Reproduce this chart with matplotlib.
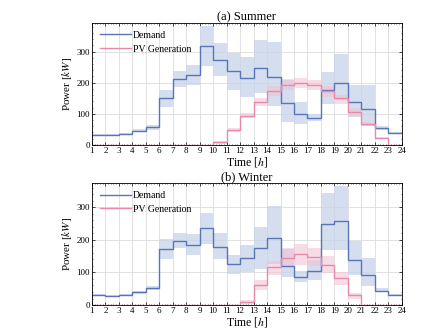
import numpy as np
import matplotlib
matplotlib.use("Agg")
import matplotlib.pyplot as plt

plt.rcParams['font.family'] = ['Liberation Serif', 'DejaVu Serif']
plt.rcParams['mathtext.fontset'] = 'stix'

hours = list(range(1, 25))  # step edges, each value covers [h, h+1)

# Summer
summer_demand = [33, 33, 35, 46, 56, 150, 213, 224, 317, 274, 237, 215, 247, 219,
                 134, 99, 85, 178, 200, 137, 115, 55, 38]
summer_demand_hi = [36, 36, 38, 51, 64, 177, 237, 257, 382, 327, 295, 284, 338, 330,
                    210, 137, 100, 234, 292, 191, 193, 60, 41]
summer_demand_lo = [30, 30, 32, 41, 49, 123, 185, 191, 253, 221, 177, 155, 166, 126,
                    73, 68, 78, 130, 143, 91, 62, 48, 34]
summer_pv = [0, 0, 0, 0, 0, 0, 0, 0, 0, 8, 47, 94, 139, 173, 193, 200, 193, 173,
             150, 107, 67, 22, 0]
summer_pv_hi = [0, 0, 0, 0, 0, 0, 0, 0, 0, 13, 54, 104, 152, 190, 211, 216, 208, 190,
                161, 120, 75, 25, 0]
summer_pv_lo = [0, 0, 0, 0, 0, 0, 0, 0, 0, 2, 41, 87, 126, 156, 176, 184, 178, 155,
                133, 92, 60, 19, 0]

# Winter
winter_demand = [31, 29, 32, 39, 52, 172, 195, 184, 235, 178, 125, 143, 175, 207,
                 121, 85, 103, 248, 257, 139, 91, 44, 31]
winter_demand_hi = [34, 32, 35, 43, 57, 203, 220, 219, 283, 221, 155, 185, 239, 304,
                    173, 103, 139, 345, 365, 196, 144, 51, 34]
winter_demand_lo = [28, 26, 29, 35, 45, 141, 175, 152, 188, 140, 94, 100, 111, 126,
                    85, 72, 78, 170, 170, 93, 57, 39, 28]
winter_pv = [0, 0, 0, 0, 0, 0, 0, 0, 0, 0, 0, 10, 61, 116, 145, 157, 148, 122,
             82, 30, 0, 0, 0]
winter_pv_hi = [0, 0, 0, 0, 0, 0, 0, 0, 0, 0, 0, 15, 77, 134, 175, 186, 176, 149,
                100, 38, 0, 0, 0]
winter_pv_lo = [0, 0, 0, 0, 0, 0, 0, 0, 0, 0, 0, 3, 46, 93, 118, 124, 120, 98,
                62, 18, 0, 0, 0]

blue = '#5a74b8'
blue_fill = '#c7d4ea'
pink = '#e58aa8'
pink_fill = '#f3c3d4'

fig = plt.figure(figsize=(4.44, 3.33), dpi=100)
ax1 = fig.add_axes([0.207, 0.565, 0.698, 0.366])
ax2 = fig.add_axes([0.207, 0.084, 0.698, 0.366])

panels = [
    (ax1, '(a) Summer', summer_demand, summer_demand_hi, summer_demand_lo,
     summer_pv, summer_pv_hi, summer_pv_lo, 392),
    (ax2, '(b) Winter', winter_demand, winter_demand_hi, winter_demand_lo,
     winter_pv, winter_pv_hi, winter_pv_lo, 374),
]

for ax, title, d, dhi, dlo, pv, pvhi, pvlo, ytop in panels:
    ax.stairs(dhi, hours, baseline=dlo, fill=True, color=blue_fill, alpha=0.75, lw=0)
    ax.stairs(pvhi, hours, baseline=pvlo, fill=True, color=pink_fill, alpha=0.6, lw=0)
    ax.stairs(d, hours, baseline=None, color=blue, lw=1.0, label='Demand')
    ax.stairs(pv, hours, baseline=None, color=pink, lw=1.0, label='PV Generation')
    ax.set_xlim(1, 24)
    ax.set_ylim(0, ytop)
    ax.set_xticks(hours)
    ax.set_yticks([0, 100, 200, 300])
    ax.grid(True, color='#dcdcdc', lw=0.6)
    ax.set_axisbelow(True)
    ax.tick_params(labelsize=6.5, direction='in', top=True, right=True,
                   length=2, width=0.5, pad=1.5)
    ax.minorticks_on()
    ax.tick_params(which='minor', direction='in', top=True, right=True,
                   length=1, width=0.4)
    for s in ax.spines.values():
        s.set_linewidth(0.6)
    ax.set_title(title, fontsize=9, pad=2)
    ax.set_ylabel('Power [$kW$]', fontsize=8, labelpad=2)
    ax.set_xlabel('Time [$h$]', fontsize=8.5, labelpad=0)
    ax.legend(loc='upper left', frameon=False, fontsize=7, handlelength=3.2,
              handletextpad=0.2, borderaxespad=0.4, labelspacing=0.5)

fig.savefig('out.png', dpi=100)
